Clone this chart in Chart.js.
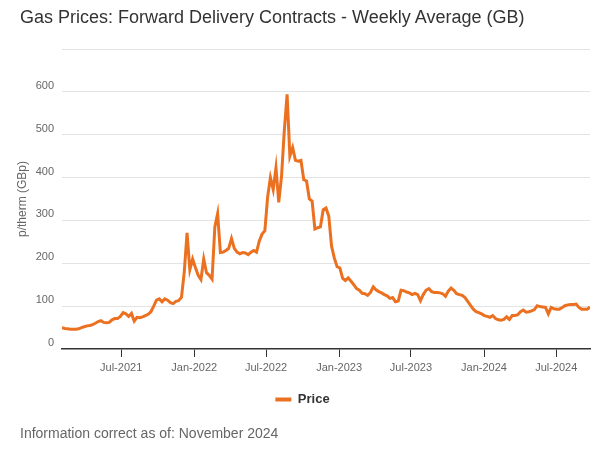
<!DOCTYPE html>
<html>
<head>
<meta charset="utf-8">
<script src="https://cdn.jsdelivr.net/npm/chart.js@4"></script>
<style>
    body { margin: 0; background: #fff; font-family: "Liberation Sans", Arial, sans-serif; }
    #wrap { position: relative; width: 600px; height: 471px; }
    #title { position: absolute; left: 20px; top: 7px; font-size: 18px; color: #333; white-space: nowrap; }
    #footer { position: absolute; left: 20px; top: 425px; font-size: 14px; color: #666; white-space: nowrap; }
    canvas { position: absolute; left: 0; top: 0; }
</style>
</head>
<body>
<div id="wrap">
    <canvas id="gas-chart" width="600" height="471"></canvas>
    <div id="title">Gas Prices: Forward Delivery Contracts - Weekly Average (GB)</div>
    <div id="footer">Information correct as of: November 2024</div>
</div>
<script>
// Weekly series, first week starting 2 Feb 2021
const firstWeek = '2021-02-02';
const prices = [
    50, 48, 47, 46, 46, 46, 47, 50, 52, 54,
    55, 57, 60, 64, 66, 62, 61, 62, 68, 71,
    71, 76, 85, 82, 76, 83, 65, 74, 73, 75,
    78, 81, 87, 100, 114, 117, 110, 117, 114, 108,
    106, 111, 113, 121, 180, 271, 185, 210, 190, 172,
    162, 210, 178, 172, 163, 285, 316, 225, 226, 230,
    235, 258, 235, 226, 222, 225, 224, 220, 226, 230,
    226, 252, 268, 276, 355, 400, 372, 423, 342, 403,
    510, 594, 450, 470, 440, 438, 440, 395, 392, 350,
    345, 280, 283, 285, 325, 329, 310, 240, 212, 192,
    189, 165, 160, 166, 158, 150, 141, 137, 130, 129,
    125, 132, 145, 138, 134, 131, 127, 124, 118, 120,
    110, 112, 137, 136, 133, 131, 127, 130, 127, 113,
    127, 137, 141, 134, 132, 132, 131, 129, 123, 135,
    142, 137, 129, 127, 125, 120, 111, 102, 93, 87,
    85, 82, 78, 76, 74, 78, 71, 68, 67, 69,
    75, 69, 78, 78, 80, 87, 91, 86, 87, 89,
    92, 101, 99, 98, 97, 82, 97, 94, 93, 93,
    97, 101, 103, 104, 104, 105, 97, 93, 93, 93,
    98
];
// x axis tick dates (half-yearly)
const tickDates = ['2021-07-01', '2022-01-01', '2022-07-01', '2023-01-01', '2023-07-01', '2024-01-01', '2024-07-01'];
const yTicks = [0, 100, 200, 300, 400, 500, 600, 700];
const monthNames = ['Jan', 'Feb', 'Mar', 'Apr', 'May', 'Jun', 'Jul', 'Aug', 'Sep', 'Oct', 'Nov', 'Dec'];

const DAY = 86400000;
const start = Date.parse(firstWeek);
const points = prices.map((p, i) => ({ x: start + i * 7 * DAY, y: p }));
const lineColor = '#EB7120';
const fontFamily = '"Liberation Sans", Arial, sans-serif';

new Chart(document.getElementById('gas-chart'), {
    type: 'line',
    data: {
        datasets: [{
            label: 'Price',
            data: points,
            borderColor: lineColor,
            backgroundColor: lineColor,
            borderWidth: 3,
            pointRadius: 0,
            tension: 0,
            fill: false
        }]
    },
    options: {
        responsive: false,
        animation: false,
        layout: { padding: { top: 49, right: 10, bottom: 55, left: 15 } },
        plugins: {
            title: { display: false },
            tooltip: { enabled: false },
            legend: {
                position: 'bottom',
                labels: {
                    boxWidth: 16,
                    boxHeight: 4,
                    padding: 10,
                    color: '#333',
                    font: { family: fontFamily, size: 13, weight: 'bold' },
                    generateLabels: chart => Chart.defaults.plugins.legend.labels.generateLabels(chart)
                        .map(l => Object.assign(l, { lineWidth: 0, strokeStyle: 'transparent' }))
                }
            }
        },
        scales: {
            x: {
                type: 'linear',
                min: start,
                max: start + (prices.length - 1) * 7 * DAY,
                afterBuildTicks: scale => { scale.ticks = tickDates.map(d => ({ value: Date.parse(d) })); },
                afterFit: scale => { scale.height = 34; },
                ticks: {
                    autoSkip: false,
                    maxRotation: 0,
                    color: '#666',
                    padding: 4,
                    font: { family: fontFamily, size: 11 },
                    callback: v => {
                        const d = new Date(v);
                        return monthNames[d.getUTCMonth()] + '-' + d.getUTCFullYear();
                    }
                },
                grid: { display: true, drawOnChartArea: false, drawTicks: true, tickLength: 8, color: '#333', lineWidth: 1 },
                border: { display: true, color: '#333', width: 1.5 }
            },
            y: {
                min: 0,
                max: 700,
                afterBuildTicks: scale => { scale.ticks = yTicks.map(v => ({ value: v })); },
                afterFit: scale => { scale.width = 47; },
                title: {
                    display: true,
                    text: 'p/therm (GBp)',
                    color: '#666',
                    padding: { top: 0, bottom: 4 },
                    font: { family: fontFamily, size: 12 }
                },
                ticks: {
                    color: '#666',
                    labelOffset: -6,
                    padding: 8,
                    font: { family: fontFamily, size: 11 },
                    callback: v => (v === 700 ? '' : v)
                },
                grid: { color: ctx => (ctx.tick && ctx.tick.value === 0 ? 'transparent' : '#e3e3e3'), lineWidth: 1, drawTicks: false },
                border: { display: false }
            }
        }
    }
});
</script>
</body>
</html>
